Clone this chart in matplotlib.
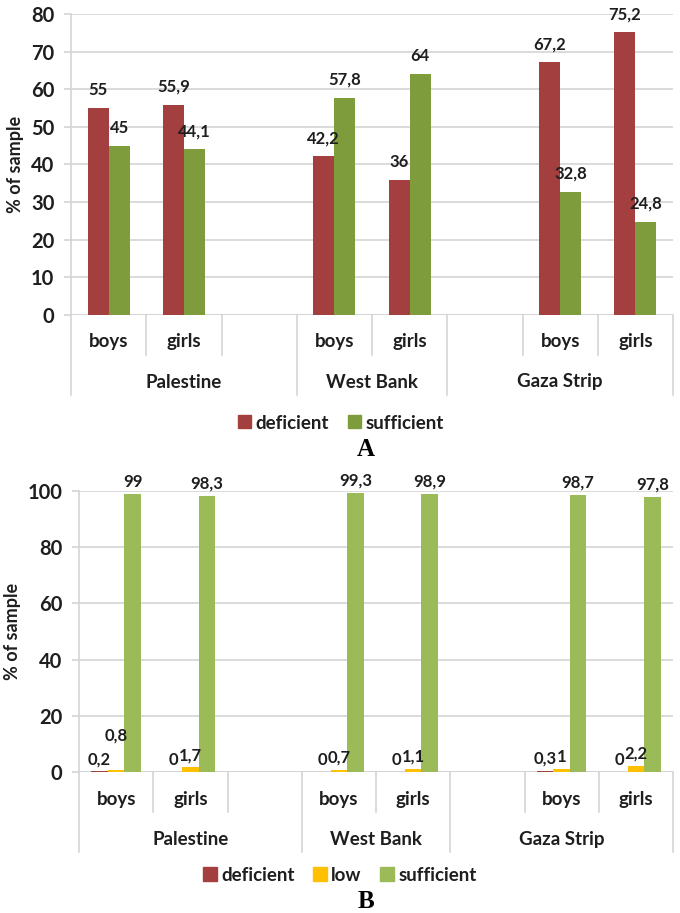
import numpy as np
import matplotlib.pyplot as plt
from matplotlib.patches import Patch

# data
groups = ["Palestine", "West Bank", "Gaza Strip"]
slot_labels = ["boys", "girls", "", "boys", "girls", "", "boys", "girls"]
slot_group = [0, 0, 0, 1, 1, 2, 2, 2]

# chart A (only filled slots carry values)
a_deficient = [55, 55.9, None, 42.2, 36, None, 67.2, 75.2]
a_sufficient = [45, 44.1, None, 57.8, 64, None, 32.8, 24.8]

# chart B
b_deficient = [0.2, 0, None, 0, 0, None, 0.3, 0]
b_low = [0.8, 1.7, None, 0.7, 1.1, None, 1, 2.2]
b_sufficient = [99, 98.3, None, 99.3, 98.9, None, 98.7, 97.8]

red = "#A33F3E"
green_a = "#7F9C3D"
green_b = "#9BBB59"
yellow = "#FFC000"
grid_c = "#D4D4D4"
txt_c = "#1E1E1E"
font = "Lato"

plt.rcParams["font.family"] = [font, "DejaVu Sans"]

fig = plt.figure(figsize=(6.8, 9.13), dpi=100)
axA = fig.add_axes([71 / 680, 1 - 315 / 913, (673 - 71) / 680, 301 / 913])
axB = fig.add_axes([79 / 680, 1 - 772 / 913, (673 - 79) / 680, 281 / 913])


def draw(ax, series, colors, width, ymax, step, lab_off, nudge):
    n = len(series)
    x = np.arange(len(slot_labels))
    for k, (vals, col) in enumerate(zip(series, colors)):
        pos = x + (k - (n - 1) / 2) * width
        for i, v in enumerate(vals):
            if v is None:
                continue
            ax.bar(pos[i], v, width=width, color=col, zorder=3)
            s = ("%g" % v).replace(".", ",")
            ax.annotate(s, (pos[i], v), xytext=(0, lab_off + nudge.get((k, i), 0)),
                        textcoords="offset points", ha="center", va="bottom",
                        fontsize=12, fontweight="bold", color=txt_c, zorder=4)
    ax.set_xlim(-0.5, len(slot_labels) - 0.5)
    ax.set_ylim(0, ymax)
    ax.set_yticks(np.arange(0, ymax + 1, step))
    ax.yaxis.grid(True, color=grid_c, linewidth=1.2, zorder=0)
    ax.set_xticks([])
    for sp in ["top", "right", "bottom"]:
        ax.spines[sp].set_visible(False)
    ax.spines["left"].set_color(grid_c)
    ax.spines["left"].set_linewidth(1.2)
    ax.spines["left"].set_zorder(0)
    ax.axhline(0, color=grid_c, linewidth=1.2, zorder=2)
    ax.tick_params(axis="y", length=5, color=grid_c, width=1.2, labelsize=14.5,
                   labelcolor=txt_c, pad=7)
    for t in ax.get_yticklabels():
        t.set_fontweight("bold")
    ax.set_ylabel("% of sample", fontsize=13, fontweight="bold", color=txt_c, labelpad=5)


def cat_axis(ax, h_px):
    tr = ax.get_xaxis_transform()
    short = -40 / h_px
    long_ = -80 / h_px
    nslot = len(slot_labels)
    for i, lab in enumerate(slot_labels):
        ax.text(i, -27 / h_px, lab, transform=tr, ha="center", va="center",
                fontsize=13.5, fontweight="bold", color=txt_c)
    for b in range(nslot + 1):
        edge = b - 0.5
        is_group = b == 0 or b == nslot or slot_group[b] != slot_group[b - 1]
        ax.plot([edge, edge], [0, long_ if is_group else short], transform=tr,
                color=grid_c, linewidth=1.2, clip_on=False)
    for g, name in enumerate(groups):
        idx = [i for i, s in enumerate(slot_group) if s == g]
        ax.text((idx[0] + idx[-1]) / 2, -67 / h_px, name, transform=tr, ha="center",
                va="center", fontsize=13.5, fontweight="bold", color=txt_c)


draw(axA, [a_deficient, a_sufficient], [red, green_a], 0.28, 80, 10, 7, {})
cat_axis(axA, 301)
draw(axB, [b_deficient, b_low, b_sufficient], [red, yellow, green_b], 0.222, 100, 20, 3,
     {(1, 0): 16})
cat_axis(axB, 281)

legA = fig.legend(handles=[Patch(color=red, label="deficient"), Patch(color=green_a, label="sufficient")],
                  loc="center", bbox_to_anchor=(341 / 680, 1 - 423 / 913), ncol=2, frameon=False,
                  handlelength=0.7, handleheight=0.7, handletextpad=0.25, columnspacing=1.0,
                  prop={"size": 13.5, "weight": "bold"})
legB = fig.legend(handles=[Patch(color=red, label="deficient"), Patch(color=yellow, label="low"),
                           Patch(color=green_b, label="sufficient")],
                  loc="center", bbox_to_anchor=(340 / 680, 1 - 875 / 913), ncol=3, frameon=False,
                  handlelength=0.7, handleheight=0.7, handletextpad=0.25, columnspacing=1.0,
                  prop={"size": 13.5, "weight": "bold"})
for leg in (legA, legB):
    for t in leg.get_texts():
        t.set_color(txt_c)

fig.text(366 / 680, 1 - 449 / 913, "A", ha="center", va="center", fontsize=18,
         fontweight="bold", family="Liberation Serif")
fig.text(366 / 680, 1 - 901 / 913, "B", ha="center", va="center", fontsize=18,
         fontweight="bold", family="Liberation Serif")

fig.savefig("out.png", dpi=100)
